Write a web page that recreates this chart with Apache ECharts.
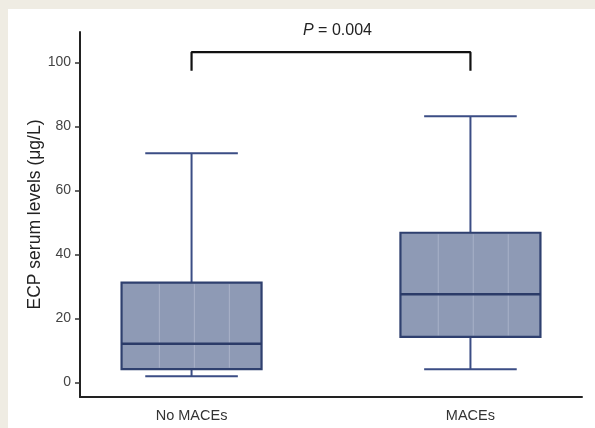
<!DOCTYPE html>
<html>
<head>
<meta charset="utf-8">
<script src="https://cdn.jsdelivr.net/npm/echarts@6/dist/echarts.min.js"></script>
<style>
  html, body { margin: 0; padding: 0; background: #efece3; width: 595px; height: 428px; overflow: hidden; }
  #chart { position: absolute; left: 8px; top: 9px; width: 587px; height: 419px; background: #ffffff; }
</style>
</head>
<body>
<div id="chart"></div>
<script>
// ---- data ----
var categories = ['No MACEs', 'MACEs'];
var whiskerLow = [2.0, 4.2];
var q1Values = [4.2, 14.3];
var medianValues = [12.1, 27.6];
var q3Values = [31.2, 46.8];
var whiskerHigh = [71.6, 83.2];
var yTicks = [0, 20, 40, 60, 80, 100];
var pLabel = '0.004';
var bracketLow = 97.4;
var bracketHigh = 103.2;

var boxData = categories.map(function (c, i) {
  return [i, whiskerLow[i], q1Values[i], medianValues[i], q3Values[i], whiskerHigh[i]];
});
var bracketData = [[0, bracketLow], [0, bracketHigh], [1, bracketHigh], [1, bracketLow]];

var chart = echarts.init(document.getElementById('chart'), null, { renderer: 'canvas' });

function renderBox(params, api) {
  var x = api.value(0);
  var unit = api.size([1, 0])[0];
  var halfBox = unit * 0.251;
  var halfCap = unit * 0.166;
  var pMin = api.coord([x, api.value(1)]);
  var pQ1 = api.coord([x, api.value(2)]);
  var pMed = api.coord([x, api.value(3)]);
  var pQ3 = api.coord([x, api.value(4)]);
  var pMax = api.coord([x, api.value(5)]);
  var cx = pMin[0];
  var whiskerStyle = { stroke: '#3b4d85', lineWidth: 2, fill: null };
  var children = [
    { type: 'line', shape: { x1: cx, y1: pMax[1], x2: cx, y2: pQ3[1] }, style: whiskerStyle },
    { type: 'line', shape: { x1: cx, y1: pQ1[1], x2: cx, y2: pMin[1] }, style: whiskerStyle },
    { type: 'line', shape: { x1: cx - halfCap, y1: pMax[1], x2: cx + halfCap, y2: pMax[1] }, style: whiskerStyle },
    { type: 'line', shape: { x1: cx - halfCap, y1: pMin[1], x2: cx + halfCap, y2: pMin[1] }, style: whiskerStyle },
    { type: 'rect', shape: { x: cx - halfBox, y: pQ3[1], width: halfBox * 2, height: pQ1[1] - pQ3[1] },
      style: { fill: '#8e9ab5', stroke: '#2f406f', lineWidth: 2.2 } }
  ];
  [0.27, 0.52, 0.77].forEach(function (f) {
    var lx = cx - halfBox + halfBox * 2 * f;
    children.push({ type: 'line', shape: { x1: lx, y1: pQ3[1] + 1.5, x2: lx, y2: pQ1[1] - 1.5 },
      style: { stroke: '#a9b2c8', lineWidth: 1 } });
  });
  children.push({ type: 'line', shape: { x1: cx - halfBox, y1: pMed[1], x2: cx + halfBox, y2: pMed[1] },
    style: { stroke: '#2b3b68', lineWidth: 2.5 } });
  return { type: 'group', children: children };
}

var option = {
  animation: false,
  title: {
    text: '{i|P} = ' + pLabel,
    left: 295, top: 14, padding: 0,
    textStyle: {
      fontFamily: 'Liberation Sans, Arial, sans-serif', fontSize: 16, fontWeight: 'normal', color: '#222',
      rich: { i: { fontStyle: 'italic', fontSize: 16, fontFamily: 'Liberation Sans, Arial, sans-serif', color: '#222' } }
    }
  },
  grid: { left: 72, right: 13, top: 23, bottom: 31, containLabel: false },
  xAxis: {
    type: 'value', min: -0.4, max: 1.4,
    axisLine: { onZero: false, lineStyle: { color: '#222', width: 2 } },
    axisTick: { show: false },
    splitLine: { show: false },
    axisLabel: {
      customValues: [0, 1],
      formatter: function (v) { return categories[Math.round(v)] || ''; },
      margin: 11, fontSize: 14.5, color: '#333', fontFamily: 'Liberation Sans, Arial, sans-serif'
    }
  },
  yAxis: {
    type: 'value', min: -4.5, max: 109.5,
    name: 'ECP serum levels (\u03bcg/L)', nameLocation: 'middle', nameGap: 36, nameMoveOverlap: false,
    nameTextStyle: { fontSize: 17.5, color: '#222', fontFamily: 'Liberation Sans, Arial, sans-serif' },
    axisLine: { onZero: false, lineStyle: { color: '#222', width: 2 } },
    axisTick: { show: true, customValues: yTicks, length: 5, lineStyle: { color: '#333', width: 1.5 } },
    splitLine: { show: false },
    axisLabel: {
      customValues: yTicks, margin: 9, fontSize: 14, color: '#444',
      fontFamily: 'Liberation Sans, Arial, sans-serif'
    }
  },
  series: [
    {
      type: 'custom', name: 'ECP', data: boxData, renderItem: renderBox,
      encode: { x: 0, y: [1, 2, 3, 4, 5] }, z: 3
    },
    {
      type: 'line', name: 'bracket', data: bracketData, symbol: 'none',
      lineStyle: { color: '#111', width: 2.2 }, z: 4
    }
  ]
};
chart.setOption(option);
</script>
</body>
</html>
